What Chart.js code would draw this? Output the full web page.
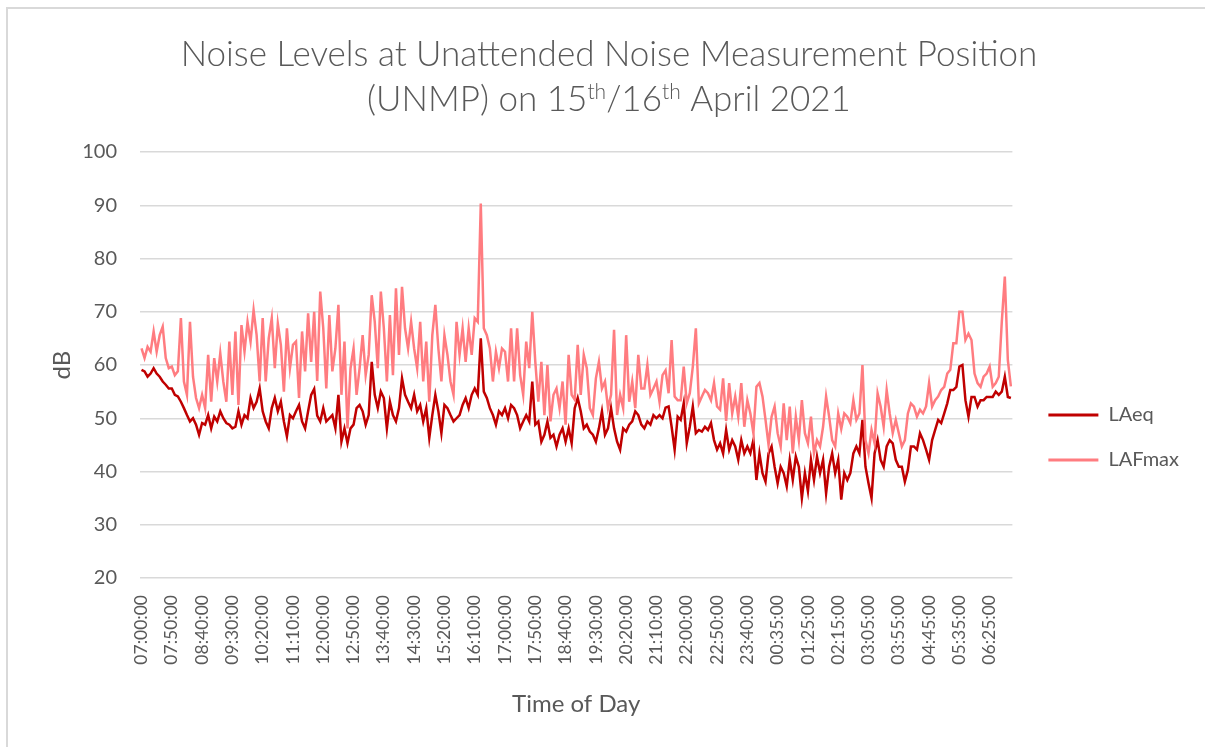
<!DOCTYPE html>
<html>
<head>
<meta charset="utf-8">
<script src="https://cdn.jsdelivr.net/npm/chart.js@4.4.1/dist/chart.umd.min.js"></script>
<style>
html, body { margin: 0; padding: 0; background: #fff; overflow: hidden; }
#wrap { position: relative; width: 1205px; height: 747px; }
#frame { position: absolute; left: 6px; top: 7px; width: 1400px; height: 900px; border: 2px solid #d9d9d9; pointer-events: none; }
</style>
</head>
<body>
<div id="wrap">
  <canvas id="noiseChart" width="1205" height="747"></canvas>
  <div id="frame"></div>
</div>
<script>
// readings every 5 minutes from 07:00 on the 15th (one reading missing just after 23:40)
const tickLabels = [
    "07:00:00", "07:50:00", "08:40:00", "09:30:00", "10:20:00", "11:10:00", "12:00:00", "12:50:00",
    "13:40:00", "14:30:00", "15:20:00", "16:10:00", "17:00:00", "17:50:00", "18:40:00", "19:30:00",
    "20:20:00", "21:10:00", "22:00:00", "22:50:00", "23:40:00", "00:35:00", "01:25:00", "02:15:00",
    "03:05:00", "03:55:00", "04:45:00", "05:35:00", "06:25:00"
];

const laeq = [
    59.1, 58.8, 57.8, 58.4, 59.4, 58.4, 57.8, 56.9, 56.3, 55.6,
    55.6, 54.4, 54.1, 53.1, 51.9, 50.6, 49.4, 50, 48.8, 46.9,
    49.1, 48.8, 50.6, 48.1, 50.3, 49.4, 51.3, 50, 49.1, 48.8,
    48.1, 48.4, 51.3, 48.8, 50.6, 50, 53.8, 51.9, 53.1, 55.6,
    51.3, 49.4, 48.1, 51.9, 53.8, 51.3, 53.1, 49.4, 46.6, 50.6,
    50, 51.3, 52.5, 49.4, 48.1, 51.3, 54.4, 55.5, 50.5, 49.4,
    51.9, 49.4, 50, 50.6, 48.1, 54.4, 45.6, 48.1, 45.3, 48.1,
    48.8, 51.9, 52.5, 51.3, 48.8, 50.6, 60.6, 54.4, 51.9, 55,
    53.8, 48.1, 53.1, 50.6, 49.4, 51.9, 57.5, 54.4, 53.1, 51.9,
    54.4, 51.3, 52.5, 49.4, 51.9, 46.3, 50.6, 54.4, 51.3, 47.2,
    52.5, 51.9, 50.6, 49.4, 50, 50.6, 52.5, 53.8, 51.9, 54.4,
    55.6, 54.4, 65, 55, 53.8, 51.9, 50.6, 48.8, 51.3, 50.6,
    51.9, 50, 52.5, 51.9, 50.6, 48.1, 49.4, 50.6, 49.4, 56.9,
    48.8, 49.4, 45.6, 46.9, 49.4, 46.3, 46.9, 44.7, 46.9, 48.1,
    45.6, 48.1, 45.3, 51.9, 53.8, 51.3, 48.1, 48.8, 47.5, 46.9,
    45.6, 48.1, 51.3, 46.9, 48.1, 51.9, 48.1, 45.6, 44.1, 48.1,
    47.5, 48.8, 49.4, 51.3, 50.6, 48.8, 48.1, 49.4, 48.8, 50.6,
    50, 50.6, 50, 52, 52.2, 48.4, 44.1, 50.3, 49.7, 52.8,
    45.3, 48.4, 52.2, 47.2, 47.8, 47.5, 48.4, 47.8, 49.1, 45.9,
    44.1, 45.3, 43.4, 47.8, 44.1, 45.9, 44.7, 42.2, 45.9, 43.4,
    44.7, 43.4, 45.9, 38.4, 43.4, 39.7, 38.1, 43.4, 44.7, 40.9,
    37.8, 40.9, 39.7, 37.2, 42.2, 38.4, 42.8, 40.9, 35, 39.7,
    36.3, 42.2, 38.4, 42.8, 39.7, 42.2, 35.9, 40.9, 43.4, 39.7,
    42.2, 34.7, 39.7, 38.4, 39.7, 43.4, 44.7, 43.4, 49.7, 40.9,
    37.8, 35, 43.4, 45.9, 42.2, 40.9, 44.7, 45.9, 45.3, 42.2,
    40.9, 40.9, 38.1, 40.3, 44.7, 44.7, 44.1, 47.2, 45.9, 44.1,
    42.2, 45.9, 47.8, 49.7, 49.1, 50.9, 52.8, 55.3, 55.3, 55.9,
    59.7, 60, 53.4, 50.3, 54, 54, 52.2, 53.4, 53.4, 54,
    54, 54, 55, 54.4, 55, 57.8, 54, 53.8
];

const lafmax = [
    63.1, 61.3, 63.4, 62.5, 66.3, 62.5, 65.6, 67.2, 61.3, 59.4,
    59.7, 58.1, 58.8, 68.8, 56.9, 54.4, 68.1, 57.8, 53.8, 51.9,
    54.4, 51.9, 61.9, 53.1, 61.3, 56.9, 62.2, 56.9, 53.1, 64.4,
    54.4, 66.3, 52.5, 67.5, 62.5, 68.1, 64.4, 70.3, 65.6, 56.9,
    68.8, 56.9, 65, 68.8, 59.4, 67.8, 63.8, 55, 66.9, 59.4,
    63.8, 64.4, 53.8, 66.3, 58.8, 69.7, 60.6, 70, 57, 73.8,
    66.9, 55.6, 69.4, 58.8, 63.1, 71.3, 54.4, 64.4, 48.1, 59.4,
    63.1, 54.4, 59.4, 65.6, 58.1, 61.9, 73.1, 68.1, 59.4, 73.8,
    66.9, 56.9, 69.4, 58.1, 74.4, 61.9, 74.7, 66.9, 63.1, 68.1,
    63.1, 59.4, 68.1, 56.9, 64.4, 53.1, 65.6, 71.3, 63.1, 56.9,
    65.6, 61.9, 56.9, 54.4, 68.1, 61.9, 66.9, 60.6, 66.9, 61.9,
    68.8, 68.1, 90.3, 66.9, 65.6, 63.1, 56.9, 62.5, 59.4, 63.1,
    62.5, 56.9, 66.9, 56.9, 66.9, 58.1, 54.4, 64.4, 59.4, 70,
    60.6, 53.1, 60.6, 50.6, 60, 49.4, 54.4, 55.6, 51.9, 56.9,
    48.8, 61.9, 54.4, 53.5, 63.8, 54.4, 61.9, 59.4, 51.9, 50.6,
    57.5, 60.6, 55.6, 56.9, 51.9, 54.4, 66.6, 50.6, 54.4, 51.9,
    65.6, 53.1, 56.9, 51.9, 61.9, 55.6, 55.6, 60, 54.4, 55.6,
    56.9, 53.1, 58.1, 59, 54.7, 64.7, 54.1, 53.4, 53.4, 59.7,
    52.8, 54.7, 59.7, 66.9, 52.8, 54.1, 55.3, 54.7, 53.4, 56.6,
    52.2, 51.6, 57.5, 49.5, 56.6, 50.9, 54.1, 50.3, 56.6, 48.4,
    53.4, 50.9, 47.2, 55.9, 56.6, 54.1, 49.7, 45, 50.3, 52.2,
    47.2, 44.7, 52.8, 45.9, 52.2, 43.4, 50.3, 45.9, 53.4, 47.2,
    45.3, 50.3, 43.4, 45.9, 44.7, 48.4, 54.1, 50.3, 45.9, 44.7,
    50.9, 48, 50.9, 50.3, 49.1, 53.4, 49.7, 50.9, 60, 45.9,
    43.4, 47.8, 45.3, 54.7, 52.2, 48.4, 55.3, 50.9, 47.2, 49.7,
    47.2, 44.7, 45.9, 50.9, 52.8, 52.2, 50.3, 51.6, 50.9, 52.2,
    56.6, 52.2, 53.4, 54.1, 55.3, 55.9, 58.4, 59.1, 64.1, 64.1,
    70, 70, 64.7, 65.9, 64.7, 58.4, 56.6, 55.9, 57.8, 58.4,
    59.7, 55.9, 56.6, 57.8, 68.1, 76.6, 60.9, 56
];

const times = [];
for (let i = 0; i < laeq.length; i++) {
    const m = (420 + i * 5 + (i > 200 ? 5 : 0)) % 1440;
    const hh = String(Math.floor(m / 60)).padStart(2, "0");
    const mm = String(m % 60).padStart(2, "0");
    times.push(hh + ":" + mm + ":00");
}

const grey = "#595959";
Chart.defaults.font.family = "Lato, 'Open Sans', sans-serif";
Chart.defaults.color = grey;

// title has superscripts, so it is drawn by hand
const titlePlugin = {
    id: "twoLineTitle",
    afterDraw(chart) {
        const ctx = chart.ctx;
        const cx = 609;
        const big = "300 35px Lato";
        const small = "300 21px Lato";
        ctx.save();
        ctx.fillStyle = grey;
        ctx.textBaseline = "alphabetic";
        ctx.textAlign = "left";

        const line1 = "Noise Levels at Unattended Noise Measurement Position";
        ctx.font = big;
        ctx.fillText(line1, cx - ctx.measureText(line1).width / 2, 66);

        const parts = [
            ["(UNMP) on 15", big, 0],
            ["th", small, -12],
            ["/16", big, 0],
            ["th", small, -12],
            [" April 2021", big, 0]
        ];
        let total = 0;
        parts.forEach(p => { ctx.font = p[1]; total += ctx.measureText(p[0]).width; });
        let x = cx - total / 2;
        parts.forEach(p => {
            ctx.font = p[1];
            ctx.fillText(p[0], x, 111 + p[2]);
            x += ctx.measureText(p[0]).width;
        });
        ctx.restore();
    }
};

const ctx = document.getElementById("noiseChart").getContext("2d");
window.myChart = new Chart(ctx, {
    type: "line",
    data: {
        labels: times,
        datasets: [{
            label: "LAeq",
            data: laeq,
            borderColor: "#C00000",
            backgroundColor: "#C00000",
            borderWidth: 2.5,
            pointRadius: 0,
            tension: 0,
            order: 2
        }, {
            label: "LAFmax",
            data: lafmax,
            borderColor: "#FF7C80",
            backgroundColor: "#FF7C80",
            borderWidth: 2.5,
            pointRadius: 0,
            tension: 0,
            order: 1
        }]
    },
    options: {
        responsive: false,
        animation: false,
        layout: { padding: { top: 152, left: 45, right: 16, bottom: 24 } },
        plugins: {
            title: { display: false },
            tooltip: { enabled: false },
            legend: {
                position: "right",
                labels: {
                    boxWidth: 50,
                    boxHeight: 3,
                    padding: 25,
                    color: grey,
                    font: { size: 20 },
                    sort: (a, b) => a.datasetIndex - b.datasetIndex,
                    generateLabels: chart => Chart.defaults.plugins.legend.labels.generateLabels(chart)
                        .map(l => Object.assign(l, { lineWidth: 0 }))
                }
            }
        },
        scales: {
            x: {
                offset: true,
                grid: { display: false, drawTicks: false },
                border: { display: false },
                ticks: {
                    autoSkip: false,
                    minRotation: 90,
                    maxRotation: 90,
                    padding: 17,
                    color: grey,
                    font: { size: 17.5 },
                    callback: (v, i) => i % 10 === 0 ? tickLabels[i / 10] : null
                },
                title: {
                    display: true,
                    text: "Time of Day",
                    color: grey,
                    font: { size: 24 },
                    padding: { top: 10, bottom: 4 }
                },
                afterFit: s => { s.height = 145; }
            },
            y: {
                min: 20,
                max: 100,
                grid: { color: "#d9d9d9", lineWidth: 1.5, drawTicks: false },
                border: { display: false },
                ticks: { stepSize: 10, padding: 23, color: grey, font: { size: 20 } },
                title: {
                    display: true,
                    text: "dB",
                    color: grey,
                    font: { size: 24 },
                    padding: { top: 3, bottom: 4 }
                },
                afterFit: s => { s.width = 95; }
            },
            gap: {
                type: "linear",
                position: "right",
                display: true,
                grid: { display: false },
                border: { display: false },
                ticks: { display: false },
                afterFit: s => { s.width = 11; }
            }
        }
    },
    plugins: [titlePlugin]
});
</script>
</body>
</html>
